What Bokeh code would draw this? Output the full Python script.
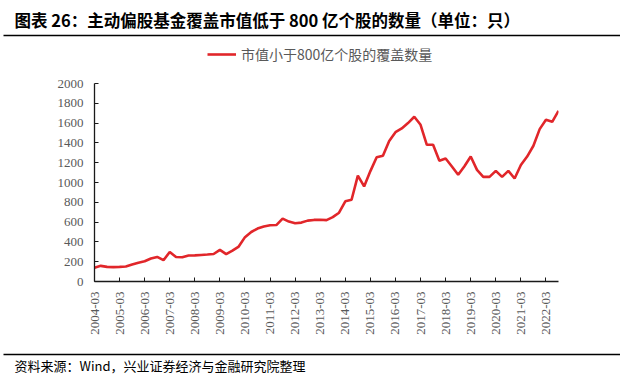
import math
from bokeh.plotting import figure
from bokeh.layouts import column
from bokeh.models import Range1d, FixedTicker, Legend, LegendItem
from bokeh.core.properties import value
from bokeh.embed import file_html
from bokeh.resources import INLINE

title_text = "图表 26：主动偏股基金覆盖市值低于 800 亿个股的数量（单位：只）"
footer_text = "资料来源：Wind，兴业证券经济与金融研究院整理"
series_name = "市值小于800亿个股的覆盖数量"

dates = [f"{y}-{m:02d}" for y in range(2004, 2023) for m in (3, 6, 9, 12)][:75]
values = [
    140, 158, 148, 145, 148, 152, 172, 190, 205, 232,
    248, 215, 298, 248, 245, 262, 264, 268, 272, 278,
    320, 277, 312, 353, 448, 500, 535, 556, 568, 570,
    635, 605, 588, 595, 615, 622, 624, 620, 650, 695,
    810, 826, 1070, 960, 1115, 1255, 1270, 1420, 1508, 1546,
    1600, 1664, 1583, 1381, 1381, 1220, 1243, 1162, 1078, 1165,
    1262, 1128, 1057, 1057, 1118, 1057, 1118, 1040, 1176, 1262,
    1371, 1539, 1633, 1613, 1724,
]
tick_labels = ["2004-03", "2005-03", "2006-03", "2007-03", "2008-03", "2009-03",
               "2010-03", "2011-03", "2012-03", "2013-03", "2014-03", "2015-03",
               "2016-03", "2017-03", "2018-03", "2019-03", "2020-03", "2021-03",
               "2022-03"]
y_ticks = [0, 200, 400, 600, 800, 1000, 1200, 1400, 1600, 1800, 2000]

W = 620
CJK = value("Noto Sans CJK SC")
SERIF = "Liberation Serif"
RED = "#E1262A"
GRAY = "#595959"


def blank(height):
    f = figure(width=W, height=height, x_range=Range1d(0, W), y_range=Range1d(0, height),
               output_backend="svg", toolbar_location=None,
               x_axis_location=None, y_axis_location=None, frame_align=False,
               min_border=0, min_border_left=0, min_border_right=0,
               min_border_top=0, min_border_bottom=0)
    f.grid.visible = False
    f.outline_line_color = None
    return f


# ---------- header ----------
HH = 44
hdr = blank(HH)
hdr.segment(x0=[3], y0=[HH - 35], x1=[W], y1=[HH - 35], line_color="#000000", line_width=1.5)
hdr.text(x=[14], y=[HH - 19], text=[title_text], text_font=CJK, text_font_style="bold",
         text_font_size="16.5px", text_baseline="middle", text_color="#000000")

# ---------- main chart ----------
MH = 300
frame_h = 237
xs = [dates.index(d) for d in dates]
ymax = frame_h * 2000 / 198.0
p = figure(width=W, height=MH, x_range=Range1d(0, len(dates) - 1),
           y_range=Range1d(0, ymax), output_backend="svg", toolbar_location=None,
           frame_align=False,
           min_border_left=94, min_border_right=W - 558, min_border_top=0,
           min_border_bottom=MH - frame_h)
p.grid.visible = False
p.outline_line_color = None
r = p.line(xs, values, line_color=RED, line_width=2.6)

tick_pos = [dates.index(t) for t in tick_labels]
p.xaxis.ticker = FixedTicker(ticks=tick_pos)
p.xaxis.major_label_overrides = {k: t for k, t in zip(tick_pos, tick_labels)}
p.xaxis.major_label_orientation = math.pi / 2
p.yaxis.ticker = FixedTicker(ticks=y_ticks)
p.yaxis.bounds = (0, 2000)
for ax in (p.xaxis[0], p.yaxis[0]):
    ax.axis_line_color = "#1a1a1a"
    ax.axis_line_width = 1.3
    ax.major_tick_line_color = "#1a1a1a"
    ax.major_tick_in = 4
    ax.major_tick_out = 0
    ax.minor_tick_line_color = None
    ax.major_label_text_font = SERIF
    ax.major_label_text_font_size = "13px"
    ax.major_label_text_color = GRAY
p.yaxis.major_label_standoff = 11
p.xaxis.major_label_standoff = 10

legend = Legend(items=[LegendItem(label=series_name, renderers=[r])],
                location=(207 - 94, frame_h - 20), orientation="horizontal",
                glyph_width=29, glyph_height=20, label_standoff=5,
                label_text_font="Noto Sans CJK SC", label_text_font_size="14px",
                label_text_color=GRAY, border_line_color=None,
                background_fill_alpha=0, padding=0, margin=0, spacing=0)
p.add_layout(legend)

# ---------- footer ----------
FH = 32
ftr = blank(FH)
ftr.segment(x0=[3], y0=[FH - 10], x1=[W], y1=[FH - 10], line_color="#000000", line_width=1.5)
ftr.text(x=[14], y=[FH - 21], text=[footer_text], text_font=CJK, text_font_size="13px",
         text_baseline="middle", text_color="#000000")

layout = column(hdr, p, ftr, spacing=0)
open("out.html", "w").write(file_html(layout, INLINE))
